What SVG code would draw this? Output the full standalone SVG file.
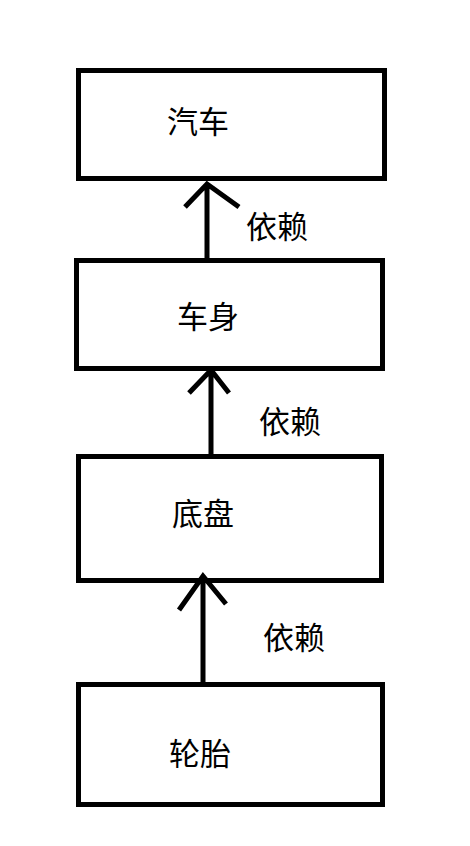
<svg xmlns="http://www.w3.org/2000/svg" width="470" height="846" viewBox="0 0 470 846">
<style>
.box{fill:#fff;stroke:#000;stroke-width:5}
.t{font-family:"Noto Sans CJK SC","Noto Sans CJK JP",sans-serif;font-size:31px;fill:#000}
.c{fill:none;stroke:#000;stroke-width:5;stroke-linecap:butt;stroke-linejoin:miter}
</style>
<rect width="470" height="846" fill="#fff"/>
<g id="node-qiche"><rect class="box" x="78.5" y="70.5" width="306" height="108"/><text class="t" x="167" y="133">汽车</text></g>
<g id="node-cheshen"><rect class="box" x="76.5" y="260.5" width="306" height="108"/><text class="t" x="177" y="328">车身</text></g>
<g id="node-dipan"><rect class="box" x="78.5" y="456.5" width="303" height="124"/><text class="t" x="172" y="525">底盘</text></g>
<g id="node-luntai"><rect class="box" x="78.5" y="684.5" width="304" height="120"/><text class="t" x="169" y="765">轮胎</text></g>
<g id="connectors">
<path class="c" d="M207 258V183M185 207L207 184L239 207"/>
<path class="c" d="M211 456V370M189 393L211 370L229 393"/>
<path class="c" d="M203 683V575M179 610L203 576L226 604"/>
</g>
<g id="labels">
<text class="t" x="246" y="238">依赖</text>
<text class="t" x="259" y="433">依赖</text>
<text class="t" x="263" y="649">依赖</text>
</g>
</svg>
